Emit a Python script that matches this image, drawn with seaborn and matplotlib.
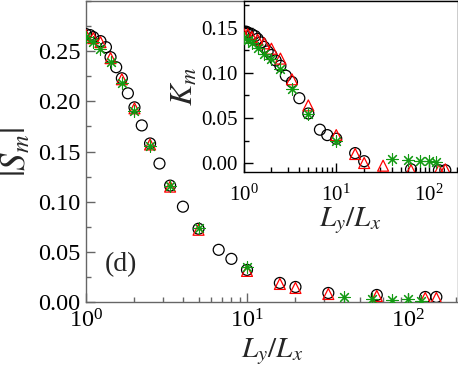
import matplotlib
matplotlib.use('Agg')
import matplotlib.pyplot as plt
import seaborn as sns
from matplotlib.ticker import MultipleLocator, LogLocator, NullFormatter, FormatStrFormatter

# datos (panel d)
x_circ = [1.0, 1.06, 1.11, 1.23, 1.33, 1.42, 1.54, 1.67, 1.82, 2.0, 2.22, 2.5, 2.86, 3.33,
          4.0, 5.0, 6.67, 8.0, 10.0, 16.0, 20.0, 32.0, 64.0, 128.0, 150.0]
s_circ = [0.267, 0.266, 0.264, 0.260, 0.254, 0.244, 0.234, 0.223, 0.208, 0.194, 0.176, 0.158, 0.138, 0.116,
          0.095, 0.073, 0.052, 0.043, 0.032, 0.019, 0.015, 0.009, 0.007, 0.005, 0.005]

x_tri = [1.0, 1.11, 1.23, 1.42, 1.67, 2.0, 2.5, 3.33, 5.0, 10.0, 16.0, 20.0, 32.0, 64.0, 128.0, 150.0]
s_tri = [0.266, 0.263, 0.259, 0.243, 0.222, 0.193, 0.157, 0.115, 0.072, 0.031, 0.018, 0.014, 0.008, 0.006, 0.004, 0.004]

x_star = [1.0, 1.11, 1.23, 1.42, 1.67, 2.0, 2.5, 3.33, 5.0, 10.0, 40.0, 60.0, 80.0, 100.0, 120.0]
s_star = [0.264, 0.259, 0.252, 0.239, 0.218, 0.190, 0.155, 0.116, 0.074, 0.035, 0.005, 0.003, 0.002, 0.003, 0.001]

# inset: K_m
xk_circ = [1.0, 1.06, 1.11, 1.23, 1.33, 1.42, 1.54, 1.67, 1.82, 2.0, 2.22, 2.5, 2.86, 3.33,
           4.0, 5.0, 6.67, 8.0, 10.0, 16.0, 20.0, 64.0, 128.0, 150.0]
k_circ = [0.146, 0.146, 0.145, 0.143, 0.141, 0.138, 0.134, 0.129, 0.124, 0.120, 0.114, 0.108, 0.097, 0.090,
          0.072, 0.055, 0.037, 0.031, 0.027, 0.011, 0.002, -0.007, -0.008, -0.008]
k_tri = [0.144, 0.143, 0.140, 0.137, 0.133, 0.127, 0.116, 0.093, 0.064, 0.031, 0.010, 0.000, -0.003, -0.008, -0.008, -0.007]
k_star = [0.139, 0.137, 0.133, 0.128, 0.121, 0.115, 0.104, 0.082, 0.054, 0.024, 0.005, 0.003, 0.0025, 0.0025, 0.0015]

verde = '#139a13'

sns.set_theme(style="ticks")
plt.rcParams['font.family'] = ['Liberation Serif', 'DejaVu Serif']
plt.rcParams['mathtext.fontset'] = 'stix'

fig = plt.figure(figsize=(4.58, 3.78), dpi=100)
W, H = 458, 378


def series(ax, x, y, tri_y, star_y, x_t, x_s):
    # circulos, triangulos y asteriscos (en ese orden)
    sns.scatterplot(x=x, y=y, ax=ax, marker='o', s=62, color='black',
                    facecolor='none', edgecolor='black', linewidth=0.9, zorder=3)
    sns.scatterplot(x=x_t, y=tri_y, ax=ax, marker='^', s=62, color='red',
                    facecolor='none', edgecolor='red', linewidth=0.9, zorder=4)
    sns.scatterplot(x=x_s, y=star_y, ax=ax, marker=(8, 2, 0), s=70, color=verde,
                    edgecolor=verde, linewidth=0.8, zorder=5)


def style_axes(ax, spine_col, major, minor, fs, pad_x, pad_y):
    ax.set_xscale('log')
    for sp in ax.spines.values():
        sp.set_color(spine_col)
        sp.set_linewidth(1.0)
        sp.set_visible(True)
    ax.xaxis.set_major_locator(LogLocator(base=10))
    ax.xaxis.set_minor_locator(LogLocator(base=10, subs=range(2, 10)))
    ax.xaxis.set_minor_formatter(NullFormatter())
    ax.yaxis.set_major_locator(MultipleLocator(major))
    ax.yaxis.set_minor_locator(MultipleLocator(minor))
    ax.yaxis.set_major_formatter(FormatStrFormatter('%.2f'))
    ax.tick_params(which='both', direction='in', top=False, right=False,
                   color=spine_col, width=1.0, labelsize=fs, labelcolor='black')
    ax.tick_params(which='major', length=6.5)
    ax.tick_params(which='minor', length=3.5)
    ax.tick_params(axis='x', which='major', pad=pad_x)
    ax.tick_params(axis='y', which='major', pad=pad_y)
    ax.grid(False)


# --- panel principal ---
ax = fig.add_axes([86 / W, 1 - 302 / H, 371.5 / W, 301 / H])
series(ax, x_circ, s_circ, s_tri, s_star, x_tri, x_star)
style_axes(ax, '#666666', 0.05, 0.025, 17.5, 5, 4)
ax.set_xlim(1, 203)
ax.set_ylim(0, 0.3)
ax.set_yticks([0, 0.05, 0.10, 0.15, 0.20, 0.25])
ax.set_xlabel(r'$L_y/L_x$', fontsize=21, labelpad=3)
ax.set_ylabel(r'$|S_m|$', fontsize=25, labelpad=3)
ax.text(0.05, 0.123, '(d)', transform=ax.transAxes, fontsize=20, ha='left', va='center')

# --- inset K_m ---
ax2 = fig.add_axes([243.5 / W, 1 - 172 / H, 214 / W, 171 / H])
series(ax2, xk_circ, k_circ, k_tri, k_star, x_tri, x_star)
style_axes(ax2, 'black', 0.05, 0.025, 15, 9, 4)
ax2.set_xlim(1, 203)
ax2.set_ylim(-0.01, 0.18)
ax2.set_yticks([0, 0.05, 0.10, 0.15])
ax2.set_xlabel(r'$L_y/L_x$', fontsize=21, labelpad=0)
ax2.set_ylabel(r'$K_m$', fontsize=23, labelpad=1)

fig.savefig('out.png', dpi=100)
